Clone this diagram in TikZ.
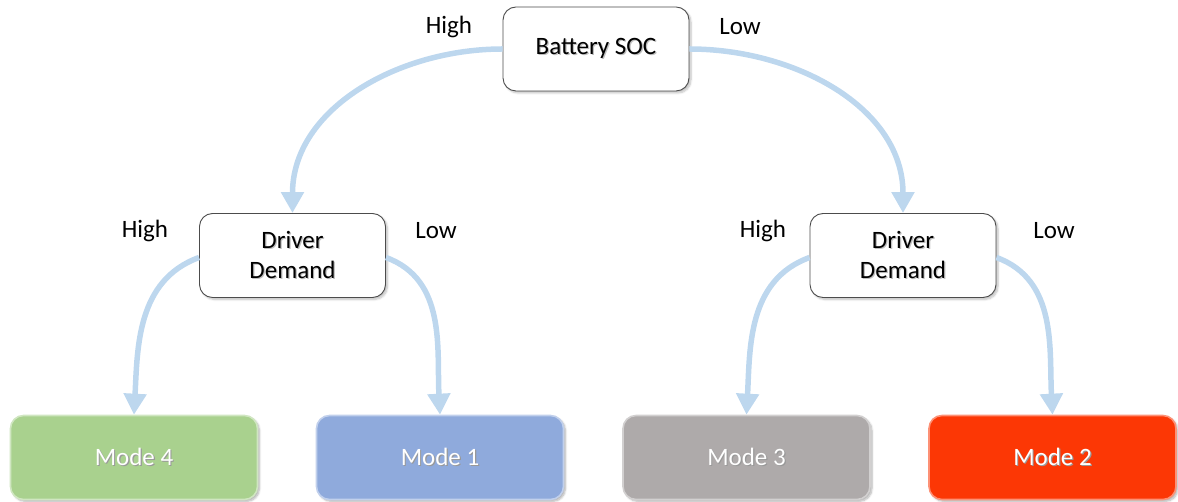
\documentclass[tikz,border=0pt]{standalone}
\usepackage{fontspec}
\setmainfont{Carlito}
\usetikzlibrary{arrows.meta,shadows.blur}

\definecolor{flow}{RGB}{189,215,238}
\definecolor{mgreen}{RGB}{169,209,142}
\definecolor{mblue}{RGB}{143,170,220}
\definecolor{mgray}{RGB}{174,170,170}
\definecolor{mred}{RGB}{252,55,5}

% text with a soft offset shadow behind it
\newcommand\shadedtext[2]{\leavevmode\rlap{\kern1.2pt\raisebox{-1.2pt}{\color{#1}#2}}#2}

\tikzset{
  decision/.style={draw=black!70, line width=0.9pt, fill=white, rounded corners=13pt,
    minimum width=186pt, minimum height=84pt, align=center, font=\fontsize{25}{30}\selectfont,
    blur shadow={shadow xshift=2pt, shadow yshift=-2pt, shadow opacity=25, shadow blur steps=6}},
  modebox/.style={fill=#1, draw=#1!55!white, line width=1.6pt, rounded corners=13pt,
    minimum width=247pt, minimum height=84pt, text=white, font=\fontsize{25}{30}\selectfont,
    blur shadow={shadow xshift=2pt, shadow yshift=-2pt, shadow opacity=30, shadow blur steps=6}},
  branch/.style={draw=flow, line width=5.5pt, -{Triangle[width=22pt,length=21pt]}},
  tag/.style={font=\fontsize{25}{30}\selectfont, text=black},
}

\begin{document}
\begin{tikzpicture}[x=1pt,y=1pt]
  \useasboundingbox (0,0) rectangle (1178,502);

  % decision nodes
  \node[decision] (soc) at (596,453) {\shadedtext{black!25}{Battery SOC}};
  \node[decision] (dl)  at (292.5,246.5) {\shadedtext{black!25}{Driver}\\\shadedtext{black!25}{Demand}};
  \node[decision] (dr)  at (903,246.5) {\shadedtext{black!25}{Driver}\\\shadedtext{black!25}{Demand}};

  % operating modes
  \node[modebox=mgreen] (m4) at (134,44.5)  {\shadedtext{black!40}{Mode 4}};
  \node[modebox=mblue]  (m1) at (440,44.5)  {\shadedtext{black!40}{Mode 1}};
  \node[modebox=mgray]  (m3) at (746.5,44.5) {\shadedtext{black!40}{Mode 3}};
  \node[modebox=mred]   (m2) at (1052.5,44.5) {\shadedtext{black!40}{Mode 2}};

  % branch labels
  \node[tag] (socHigh) at (449,475) {High};
  \node[tag] (socLow)  at (740,475) {Low};
  \node[tag] (dlHigh)  at (145,271) {High};
  \node[tag] (dlLow)   at (436,271) {Low};
  \node[tag] (drHigh)  at (763,271) {High};
  \node[tag] (drLow)   at (1054,271) {Low};

  % branches
  \draw[branch] (soc.west) to[out=180,in=90] (dl.north);
  \draw[branch] (soc.east) to[out=0,in=90] (dr.north);
  \draw[branch] ([yshift=-2pt]dl.west) to[out=200,in=87] (m4.north);
  \draw[branch] ([yshift=-2pt]dl.east) to[out=-20,in=93] (m1.north);
  \draw[branch] ([yshift=-2pt]dr.west) to[out=200,in=87] (m3.north);
  \draw[branch] ([yshift=-2pt]dr.east) to[out=-20,in=93] (m2.north);
\end{tikzpicture}
\end{document}
